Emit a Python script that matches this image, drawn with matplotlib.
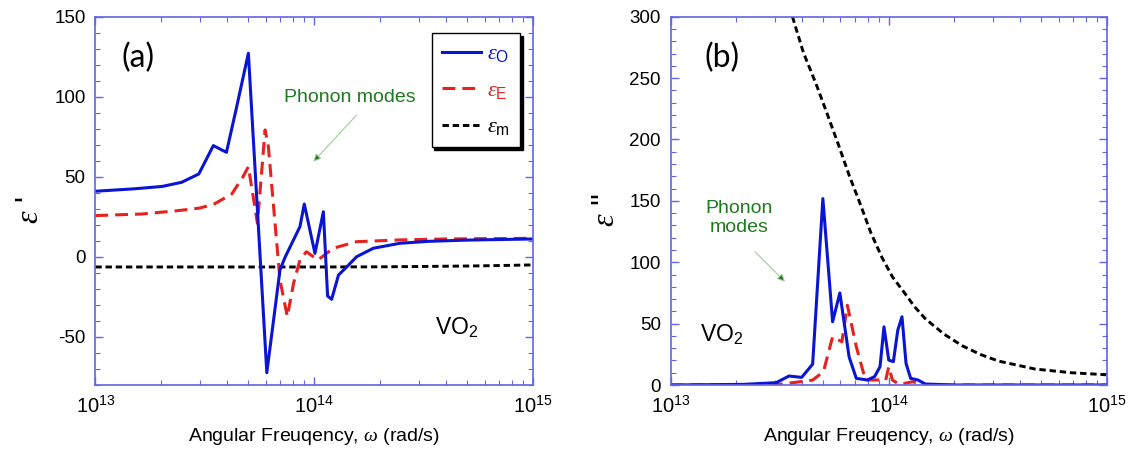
import matplotlib
matplotlib.use("Agg")
import matplotlib.pyplot as plt
from matplotlib.ticker import MultipleLocator, LogLocator, NullFormatter, FixedLocator
from matplotlib.lines import Line2D
from matplotlib.patches import FancyArrowPatch

plt.rcParams['font.family'] = ['Liberation Sans', 'DejaVu Sans']
plt.rcParams['mathtext.fontset'] = 'custom'
plt.rcParams['mathtext.rm'] = 'Liberation Sans'
plt.rcParams['mathtext.it'] = 'Liberation Serif:italic'
plt.rcParams['mathtext.bf'] = 'Liberation Sans:bold'
plt.rcParams['axes.unicode_minus'] = False

# ---- real part (panel a) ----
w_o_re = [1.0e13, 1.5e13, 2.02e13, 2.48e13, 2.97e13, 3.46e13, 3.97e13, 4.40e13, 5.0e13,
          6.07e13, 6.97e13, 7.35e13, 8.6e13, 9.0e13, 1.007e14, 1.1e14, 1.15e14, 1.2e14,
          1.29e14, 1.41e14, 1.56e14, 1.86e14, 2.46e14, 3.3e14, 5e14, 1e15]
eps_o_re = [41, 42.5, 44, 46.6, 51.8, 69.5, 65.3, 92.4, 127.2,
            -72.3, -8.2, -0.3, 18.9, 33, 2.2, 28.2, -24.4, -26.5,
            -11.3, -6.1, 0.1, 5.4, 8.5, 9.7, 10.5, 11.2]

w_e_re = [1e13, 1.64e13, 2.39e13, 3.0e13, 3.49e13, 4.2e13, 4.71e13, 5.0e13, 5.5e13,
          5.96e13, 6.17e13, 6.97e13, 7.53e13, 8.04e13, 8.6e13, 9.2e13, 1.04e14,
          1.22e14, 1.56e14, 2.46e14, 4e14, 1e15]
eps_e_re = [25.8, 26.8, 28.9, 30.5, 33, 39.3, 49.7, 56.3, 21,
            79.3, 68.8, -14.4, -37.3, -16.5, -1.9, 3.2, -1.9,
            5.4, 9.5, 10.6, 11.2, 11.6]

w_m_re = [1e13, 1e14, 2e14, 3e14, 5e14, 7e14, 1e15]
eps_m_re = [-6.3, -6.3, -6.2, -6.0, -5.7, -5.4, -5.0]

# ---- imaginary part (panel b) ----
w_o_im = [1e13, 2.15e13, 3.05e13, 3.49e13, 3.99e13, 4.48e13, 4.99e13, 5.53e13, 5.97e13,
          6.58e13, 7.1e13, 7.97e13, 8.61e13, 9.12e13, 9.51e13, 1.0e14, 1.05e14, 1.1e14,
          1.15e14, 1.2e14, 1.26e14, 1.36e14, 1.47e14, 2e14, 1e15]
eps_o_im = [0, 0.5, 1.9, 7.3, 6.2, 17, 151.8, 51.5, 75,
            23, 5.4, 4.1, 6.8, 14.9, 47.4, 20.3, 19, 44.7,
            55.6, 17.6, 5.4, 4.1, 0.8, 0, 0]

w_e_im = [1e13, 3.16e13, 4.48e13, 5.02e13, 5.53e13, 6.1e13, 6.46e13, 7.1e13, 7.82e13,
          8.95e13, 9.67e13, 1.0e14, 1.04e14, 1.12e14, 1.29e14, 1.36e14, 1.47e14, 1e15]
eps_e_im = [0, 0.5, 4, 10.8, 39.3, 35.2, 65, 31.2, 4.1,
            4.1, 3.5, 14.9, 4, 0.5, 2.7, 1.4, 0, 0]

w_m_im = [3.62e13, 4.06e13, 4.65e13, 5.22e13, 5.86e13, 6.58e13, 7.38e13, 8.28e13,
          9.3e13, 1.04e14, 1.17e14, 1.31e14, 1.47e14, 1.79e14, 2.17e14, 2.62e14,
          3.18e14, 4.68e14, 6.86e14, 1e15]
eps_m_im = [300, 271, 245, 221, 196.5, 171, 148, 124,
            104, 88, 76, 64, 54, 41.5, 32, 25,
            19.5, 13, 10, 8.3]

BLUE = '#0a14d4'
RED = '#e8201e'
GREEN = '#1e7a1e'
SPINE = '#6464e6'

W, H = 1133, 449
fig = plt.figure(figsize=(W / 100, H / 100), dpi=100)


def px(x, y):
    return x / W, 1 - y / H


ax1 = fig.add_axes([95.3 / W, 1 - 385 / H, 438 / W, 368.3 / H])
ax2 = fig.add_axes([670.5 / W, 1 - 385 / H, 436.5 / W, 368.3 / H])

solid = dict(color=BLUE, lw=2.2)
dashed = dict(color=RED, lw=2.2, dashes=(4.2, 2.3))
dotted = dict(color='black', lw=2.1, dashes=(2.2, 1.3))

ax1.plot(w_m_re, eps_m_re, **dotted)
ax1.plot(w_e_re, eps_e_re, **dashed)
ax1.plot(w_o_re, eps_o_re, **solid)

ax2.plot(w_m_im, eps_m_im, **dotted)
ax2.plot(w_e_im, eps_e_im, **dashed)
ax2.plot(w_o_im, eps_o_im, **solid)

for ax, ylim, ystep in ((ax1, (-80, 150), 50), (ax2, (0, 300), 50)):
    ax.set_xscale('log')
    ax.set_xlim(1e13, 1e15)
    ax.set_ylim(*ylim)
    ax.xaxis.set_major_locator(FixedLocator([1e13, 1e14, 1e15]))
    ax.xaxis.set_minor_locator(LogLocator(base=10, subs=range(2, 10)))
    ax.xaxis.set_minor_formatter(NullFormatter())
    ax.set_xticklabels([r'$\mathregular{10^{13}}$', r'$\mathregular{10^{14}}$',
                        r'$\mathregular{10^{15}}$'])
    ax.yaxis.set_major_locator(MultipleLocator(ystep))
    ax.yaxis.set_minor_locator(MultipleLocator(10))
    for s in ax.spines.values():
        s.set_color(SPINE)
        s.set_linewidth(1.2)
    ax.tick_params(which='both', direction='in', top=True, right=True,
                   color=SPINE, labelcolor='black')
    ax.tick_params(axis='y', labelsize=13.5)
    ax.tick_params(axis='x', labelsize=14.5)
    ax.tick_params(which='major', length=6, width=1.0, pad=7)
    ax.tick_params(which='minor', length=3.5, width=0.8)
    ax.set_xlabel(r'Angular Freuqency, $\omega$ (rad/s)', fontsize=14, labelpad=7)

ax1.set_yticks([-50, 0, 50, 100, 150])

# axis titles
fig.text(*px(30, 210), r"$\varepsilon$ '", fontsize=23, rotation=90,
         ha='center', va='center')
fig.text(*px(606, 210), r"$\varepsilon$ ''", fontsize=23, rotation=90,
         ha='center', va='center')

# panel tags
fig.text(*px(138, 58), '(a)', fontsize=23, family='Lato', ha='center', va='center')
fig.text(*px(722, 58), '(b)', fontsize=23, family='Lato', ha='center', va='center')

# legend
handles = [Line2D([], [], **solid), Line2D([], [], **dashed), Line2D([], [], **dotted)]
labels = [r'$\varepsilon_{\rm O}$', r'$\varepsilon_{\rm E}$', r'$\varepsilon_{\rm m}$']
leg = ax1.legend(handles, labels, loc='upper left',
                 bbox_to_anchor=((431.7 - 95.3) / 438, (385 - 33.3) / 368.3),
                 frameon=True, fancybox=False, shadow={'color': 'black', 'alpha': 1},
                 edgecolor='black', fontsize=16, handlelength=1.75, handletextpad=0.3,
                 labelspacing=0.7, borderpad=0.45, borderaxespad=0)
leg.get_frame().set_linewidth(1.0)
for t, c in zip(leg.get_texts(), [BLUE, RED, 'black']):
    t.set_color(c)

# annotations
fig.text(*px(350, 97), 'Phonon modes', fontsize=14, color=GREEN, ha='center', va='center')
fig.text(*px(739, 218), 'Phonon\nmodes', fontsize=14, color=GREEN, ha='center',
         va='center', linespacing=1.2)
arrow = dict(arrowstyle='-|>', edgecolor='#9ccc9c', facecolor='#1e6e1e', lw=0.8,
             mutation_scale=11, shrinkA=0, shrinkB=0)
fig.add_artist(FancyArrowPatch(px(356.7, 115), px(313.3, 161.7),
                               transform=fig.transFigure, **arrow))
fig.add_artist(FancyArrowPatch(px(755, 251.7), px(785, 281.7),
                               transform=fig.transFigure, **arrow))

fig.text(*px(457, 328), r'VO$_{\rm 2}$', fontsize=16.5, ha='center', va='center')
fig.text(*px(722, 335), r'VO$_{\rm 2}$', fontsize=16.5, ha='center', va='center')

fig.savefig('out.png', dpi=100)
